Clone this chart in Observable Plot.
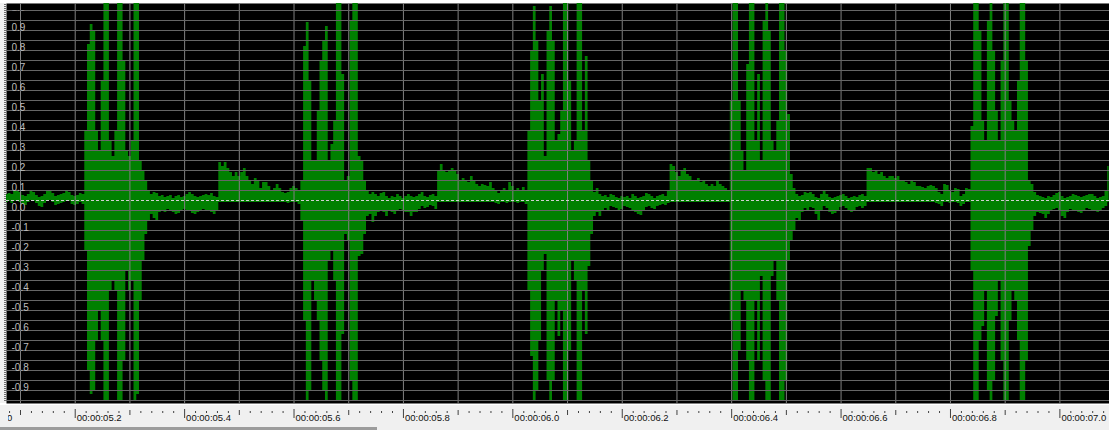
<!DOCTYPE html>
<html>
<head>
<meta charset="utf-8">
<style>
html,body{margin:0;padding:0;background:#f0f0f0;overflow:hidden;}
#chart svg{display:block;}
</style>
<script src="https://cdn.jsdelivr.net/npm/d3@7"></script>
<script src="https://cdn.jsdelivr.net/npm/@observablehq/plot@0.6"></script>
</head>
<body>
<div id="chart"></div>
<script>
const t0 = 5070, dt = 5;
const hi = [
  .03,.03,.035,.03,.045,.05,
  .04,.025,.02,.03,.045,.04,.025,.015,.02,.03,.045,.05,.035,.02,.025,.03,.035,.045,.04,.025,
  .02,.025,.035,.03,.35,.78,.88,.85,.35,.25,.6,1,1,.3,.22,.35,1,1,.7,.25,
  .22,.3,1,1,.2,.15,.1,.05,.03,.04,.035,.02,.025,.015,.02,.025,.01,.02,.025,.015,
  .02,.03,.04,.03,.02,.015,.02,.025,.03,.025,.035,.02,.015,.19,.17,.19,.16,.14,.12,.14,
  .12,.14,.16,.12,.1,.08,.11,.1,.06,.09,.09,.07,.05,.06,.08,.06,.04,.035,.04,.06,
  .07,.06,.05,.1,.77,.89,.6,.2,.2,.45,.7,.8,.87,.2,.28,.4,1,1,.63,.1,
  .12,.9,1,1,.22,.2,.1,.05,.03,.04,.03,.02,.035,.04,.02,.01,.02,.015,.03,.02,
  .01,.02,.03,.02,.015,.02,.03,.04,.02,.015,.025,.03,.02,.15,.18,.15,.14,.15,.16,.15,
  .13,.1,.11,.1,.09,.12,.1,.08,.07,.08,.075,.07,.09,.06,.05,.035,.05,.06,.05,.09,
  .07,.05,.06,.05,.065,.05,.35,.75,.97,.8,.5,.63,.22,.85,.97,.8,.3,.33,.45,1,
  1,.6,.25,.3,1,1,.35,.72,.2,.1,.04,.06,.03,.02,.025,.015,.03,.025,.015,.01,
  .02,.015,.02,.01,.03,.02,.01,.015,.02,.035,.03,.02,.01,.02,.025,.03,.02,.05,.18,.17,
  .14,.12,.15,.16,.13,.12,.1,.1,.11,.09,.1,.08,.07,.08,.07,.1,.08,.07,.06,.05,
  .5,1,1,.5,.25,.15,.68,1,1,.3,.63,.2,.9,1,.85,.3,.25,.4,1,1,
  .75,.43,.13,.06,.03,.02,.025,.04,.035,.04,.03,.015,.01,.03,.05,.03,.015,.01,.015,.02,
  .025,.03,.02,.01,.015,.02,.015,.025,.03,.02,.16,.16,.14,.15,.13,.14,.12,.11,.12,.12,
  .11,.12,.1,.1,.09,.08,.1,.09,.07,.07,.065,.06,.07,.075,.07,.06,.04,.03,.08,.075,
  .05,.04,.06,.055,.02,.03,.06,.055,.37,1,1,.85,.4,.3,.9,1,.75,.45,.3,.7,
  1,1,.5,.4,.35,.6,1,1,.7,.1,.08,.04,.025,.02,.015,.01,.02,.015,.025,.035,
  .04,.02,.01,.015,.02,.03,.025,.02,.015,.02,.025,.03,.03,.02,.01,.015,.02,.05,.17
];
const lo = [
  -.01,-.01,-.005,-.015,-.005,0,
  -.01,-.02,-.025,-.01,0,-.005,-.015,-.03,-.035,-.015,-.005,0,-.01,-.025,-.02,-.015,-.01,-.005,-.005,-.02,
  -.025,-.02,-.01,-.02,-.25,-.85,-.97,-.95,-.7,-.55,-.7,-1,-1,-.45,-.4,-.45,-1,-1,-.8,-.35,
  -.45,-.4,-1,-.97,-.5,-.3,-.17,-.1,-.07,-.09,-.1,-.06,-.05,-.06,-.045,-.05,-.06,-.07,-.065,-.05,
  -.045,-.05,-.055,-.065,-.07,-.06,-.05,-.045,-.05,-.055,-.06,-.07,-.05,-.01,-.01,-.01,-.01,-.01,-.01,-.01,
  -.01,-.01,-.01,-.01,-.01,-.01,-.01,-.01,-.01,-.01,-.01,-.01,-.01,-.01,-.01,-.01,-.01,-.01,-.015,-.01,
  -.01,-.01,-.02,-.1,-.6,-1,-.95,-.4,-.5,-.6,-.8,-.95,-1,-.3,-.25,-.4,-1,-1,-.67,-.17,
  -.2,-.9,-1,-1,-.28,-.27,-.17,-.08,-.07,-.11,-.08,-.06,-.05,-.06,-.08,-.05,-.06,-.07,-.05,-.045,
  -.05,-.06,-.06,-.08,-.06,-.06,-.045,-.03,-.04,-.035,-.025,-.03,-.045,-.01,-.01,-.01,-.01,-.01,-.01,-.01,
  -.01,-.01,-.01,-.01,-.01,-.01,-.01,-.01,-.01,-.01,-.01,-.01,-.01,-.01,-.015,-.02,-.01,-.01,-.015,-.01,
  -.01,-.01,-.015,-.01,-.01,-.02,-.45,-.78,-1,-.95,-.7,-.35,-.27,-.9,-1,-.9,-.5,-.68,-.55,-1,
  -1,-.75,-.3,-.4,-1,-1,-.45,-.67,-.33,-.17,-.08,-.06,-.08,-.05,-.04,-.05,-.03,-.035,-.04,-.05,
  -.045,-.03,-.035,-.04,-.05,-.06,-.07,-.075,-.05,-.035,-.03,-.04,-.045,-.03,-.025,-.02,-.025,-.015,-.01,-.01,
  -.01,-.01,-.01,-.01,-.01,-.01,-.01,-.01,-.01,-.01,-.01,-.01,-.01,-.01,-.01,-.01,-.01,-.01,-.01,-.01,
  -.6,-1,-1,-.75,-.45,-.5,-.8,-1,-1,-.5,-.8,-.38,-.9,-1,-1,-.38,-.3,-.5,-1,-1,
  -.9,-.3,-.2,-.15,-.09,-.1,-.06,-.04,-.05,-.035,-.04,-.07,-.1,-.05,-.03,-.04,-.06,-.07,-.065,-.05,
  -.035,-.03,-.04,-.05,-.06,-.055,-.035,-.03,-.04,-.03,-.01,-.01,-.01,-.01,-.01,-.01,-.01,-.01,-.01,-.01,
  -.01,-.01,-.01,-.01,-.01,-.01,-.01,-.01,-.01,-.01,-.01,-.01,-.01,-.01,-.01,-.015,-.02,-.03,-.01,-.01,
  -.015,-.01,-.01,-.015,-.03,-.02,-.01,-.01,-.35,-1,-1,-.7,-.63,-.45,-.95,-1,-.9,-.58,-.4,-.8,
  -1,-1,-.6,-.45,-.5,-.7,-1,-1,-.8,-.23,-.15,-.08,-.06,-.065,-.07,-.09,-.07,-.05,-.045,-.04,
  -.05,-.08,-.09,-.06,-.045,-.05,-.055,-.06,-.065,-.05,-.04,-.045,-.05,-.055,-.06,-.05,-.04,-.03,-.01
];
if (hi.length !== lo.length) throw new Error("hi/lo length mismatch " + hi.length + " " + lo.length);

// ---- axis labels ----
const labelTimes = [5000, 5200, 5400, 5600, 5800, 6000, 6200, 6400, 6600, 6800, 7000];
const timeLabels = ["00:00:05.0","00:00:05.2","00:00:05.4","00:00:05.6","00:00:05.8","00:00:06.0",
                    "00:00:06.2","00:00:06.4","00:00:06.6","00:00:06.8","00:00:07.0"];
const yTicks = [1.0, 0.9, 0.8, 0.7, 0.6, 0.5, 0.4, 0.3, 0.2, 0.1, 0.0, -0.1, -0.2, -0.3, -0.4, -0.5, -0.6, -0.7, -0.8, -0.9];
const yTickLabels = ["1.0","0.9","0.8","0.7","0.6","0.5","0.4","0.3","0.2","0.1","0.0",
                     "-0.1","-0.2","-0.3","-0.4","-0.5","-0.6","-0.7","-0.8","-0.9"];

const wave = hi.map((h, i) => ({t: t0 + i * dt, hi: h, lo: lo[i]}));
const gridTimes = d3.range(5100, 7001, 100);
const midTimes = gridTimes.filter(t => t % 200 !== 0);
const minorTimes = d3.range(5080, 7091, 20).filter(t => t % 100 !== 0);
const hGrid = d3.range(-20, 20).filter(i => i !== 0).map(i => i * 0.05);
const yRuler = d3.range(-100, 99).map(i => i / 100);

const bg = [
  "linear-gradient(#9c9c9c,#9c9c9c) 0 427px / 377px 3px no-repeat",
  "linear-gradient(#ffffff,#ffffff) 0 403px / 100% 2px no-repeat",
  "linear-gradient(#ffffff,#ffffff) 0 0 / 100% 3px no-repeat",
  "#f0f0f0"
].join(",");

const plot = Plot.plot({
  width: 1109,
  height: 430,
  marginTop: 3,
  marginRight: 0,
  marginBottom: 30,
  marginLeft: 6,
  x: {domain: [5074.4, 7090.7], axis: null, label: null},
  y: {domain: [-1, 0.985], axis: null, label: null},
  style: {background: bg, fontFamily: "'Liberation Sans', Arial, sans-serif", overflow: "hidden"},
  marks: [
    Plot.frame({fill: "#000", insetBottom: -3}),
    Plot.areaY(wave, {x: "t", y1: "lo", y2: "hi", fill: "#008000", curve: "step", clip: "frame"}),
    Plot.ruleX(gridTimes, {stroke: "#808080", strokeWidth: 1, insetBottom: -3}),
    Plot.ruleY(hGrid, {stroke: "#666666", strokeWidth: 1}),
    Plot.ruleY([0], {stroke: "#d0d0d0", strokeDasharray: "3,2"}),
    Plot.text(yTicks, {y: d => d, text: (d, i) => yTickLabels[i], frameAnchor: "left", dx: 5, dy: 7,
      textAnchor: "start", fill: "#bdbdbd", fontSize: 10}),
    Plot.axisX(minorTimes, {anchor: "bottom", tickSize: 2, dy: 11, stroke: "#404040", tickFormat: () => "", label: null}),
    Plot.axisX(midTimes, {anchor: "bottom", tickSize: 5, dy: 10, stroke: "#404040", tickFormat: () => "", label: null}),
    Plot.axisX(labelTimes, {anchor: "bottom", tickSize: 9, dy: 9, stroke: "#404040", tickFormat: () => "", label: null}),
    Plot.text(labelTimes, {x: d => d, text: (d, i) => timeLabels[i], frameAnchor: "bottom", dy: 20, dx: 1.5,
      textAnchor: "start", fill: "#111", fontSize: 9.5}),
    Plot.axisY(yRuler, {anchor: "left", tickSize: 2, stroke: "#707070", tickFormat: () => "", label: null})
  ]
});

document.getElementById("chart").appendChild(plot);

// clip the text labels to the drawing area (so the 05.0 label is cut like in the original)
const svg = d3.select(plot);
svg.insert("defs", ":first-child").append("clipPath").attr("id", "txtclip")
  .append("rect").attr("x", 6).attr("y", 3).attr("width", 1103).attr("height", 427);
svg.selectAll('g[aria-label="text"]').attr("clip-path", "url(#txtclip)");
</script>
</body>
</html>
